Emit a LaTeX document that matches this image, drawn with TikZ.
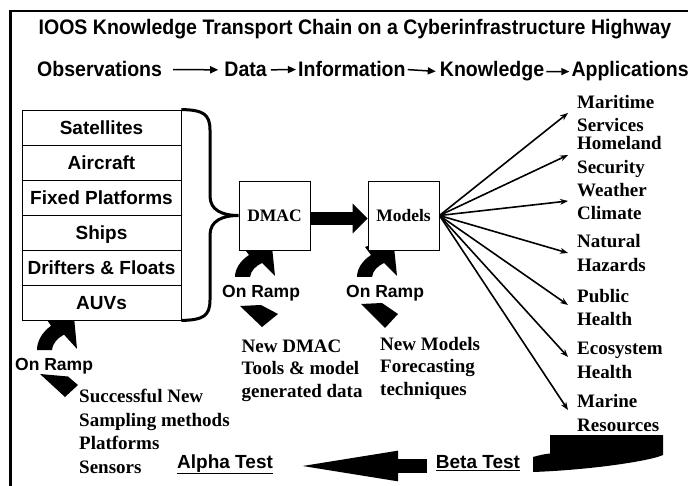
\documentclass[tikz,border=0pt]{standalone}
\usepackage{fontspec}
\setmainfont{Liberation Serif}
\newfontfamily\sansf{Liberation Sans}
\newfontfamily\sansc[FakeStretch=0.93]{Liberation Sans}
\usetikzlibrary{arrows.meta}
\begin{document}
\begin{tikzpicture}[x=1pt,y=-1pt,
  tfont/.style={inner sep=0pt,font=\sansc\bfseries\fontsize{21}{25}\selectfont},
  row/.style={draw,line width=0.9pt,fill=white,minimum width=159pt,minimum height=35pt,inner sep=0pt,text height=13.6pt,text depth=0pt,font=\sansf\bfseries\fontsize{19}{23}\selectfont},
  box/.style={draw,line width=0.9pt,fill=white,minimum width=71pt,minimum height=69pt,inner sep=0pt,text height=11.6pt,text depth=0pt,font=\bfseries\fontsize{17.5}{20}\selectfont},
  lbl/.style={anchor=base west,inner sep=0pt,font=\bfseries\fontsize{19}{23}\selectfont},
  ramp/.style={anchor=base west,inner sep=0pt,font=\sansf\bfseries\fontsize{17.5}{21}\selectfont},
  testlbl/.style={anchor=base west,inner sep=0pt,font=\sansf\bfseries\fontsize{19}{23}\selectfont},
  fan/.style={line width=1.6pt,-{Stealth[length=8pt,width=6pt]}},
  chain/.style={line width=1.5pt,-{Triangle[length=8pt,width=7pt]}},
]
\useasboundingbox (0,0) rectangle (688,486);
% frame
\draw[line width=2.8pt] (10.5,490) -- (10.5,11) -- (692,11);

% title and chain
\node[tfont,anchor=base] (title) at (355,35) {IOOS Knowledge Transport Chain on a Cyberinfrastructure Highway};
\node[tfont,anchor=base west] (obs) at (37,77) {Observations};
\node[tfont,anchor=base west] (data) at ([xshift=62pt]obs.base east) {Data};
\node[tfont,anchor=base west] (info) at ([xshift=31pt]data.base east) {Information};
\node[tfont,anchor=base west] (know) at ([xshift=34pt]info.base east) {Knowledge};
\node[tfont,anchor=base west] (appl) at ([xshift=27pt]know.base east) {Applications};
\draw[chain,shorten <=11pt,shorten >=6pt] (obs.east) -- (data.west);
\draw[chain,shorten <=4pt,shorten >=2pt] (data.east) -- (info.west);
\draw[chain,shorten <=2pt,shorten >=4pt] (info.east) -- (know.west);
\draw[chain,shorten <=2pt,shorten >=2pt] (know.east) -- (appl.west);

% on-ramp arrows (upper parts, tips hidden under the boxes)
\newcommand\rampshape{(0,0) -- (15,0) .. controls (16,-7) and (21,-11) .. (27,-14) -- (40,-1) -- (36,-40) -- (8,-30) -- (14,-22) .. controls (5,-16) and (0,-8) .. (0,0) -- cycle}
\begin{scope}[shift={(37,350)},yscale=1.1]
\fill \rampshape;
\end{scope}
\begin{scope}[shift={(235,277)}]
\fill \rampshape;
\end{scope}
\begin{scope}[shift={(357,277)}]
\fill \rampshape;
\end{scope}
% on-ramp arrows (lower parts)
\fill (40,374) -- (68,376.5) -- (78,385) -- (65,397) -- cycle;
\fill (240,306) -- (261,305) -- (278,314) -- (262,327) -- cycle;
\fill (361,304) -- (382,303) -- (398,314) -- (385,328) -- cycle;

% stack
\node[row] (s1) at (101.5,127.5) {Satellites};
\node[row] (s2) at (101.5,162.5) {Aircraft};
\node[row] (s3) at (101.5,197.5) {Fixed Platforms};
\node[row] (s4) at (101.5,232.5) {Ships};
\node[row] (s5) at (101.5,267.5) {Drifters \& Floats};
\node[row] (s6) at (101.5,302.5) {AUVs};

% boxes
\node[box] (dmac) at (274.5,215.5) {DMAC};
\node[box] (models) at (403.5,215.5) {Models};

% brace
\draw[line width=3pt] (s1.north east) .. controls (203,110) and (210,114) .. (210,130) -- (210,196) .. controls (210,210) and (222,215.5) .. (dmac.west) .. controls (222,215.5) and (210,221) .. (210,235) -- (210,300) .. controls (210,316) and (203,320) .. (s6.south east);

% thick arrow
\draw[line width=13pt,-{Triangle[length=15pt,width=29pt]}] ([yshift=-3pt]dmac.east) -- ([yshift=-3pt]models.west);

% fan
\coordinate (f1) at (568,113);
\coordinate (f2) at (568,155);
\coordinate (f3) at (568,201);
\coordinate (f4) at (568,253);
\coordinate (f5) at (568,305);
\coordinate (f6) at (568,357);
\coordinate (f7) at (568,410);
\foreach \i in {1,...,7} \draw[fan] (models.east) -- (f\i);

\node[lbl] (a1a) at (577,109) {Maritime};
\node[lbl] (a1b) at (577,132) {Services};
\node[lbl] (a2a) at (577,150) {Homeland};
\node[lbl] (a2b) at (577,174) {Security};
\node[lbl] (a3a) at (577,197) {Weather};
\node[lbl] (a3b) at (577,220) {Climate};
\node[lbl] (a4a) at (577,248) {Natural};
\node[lbl] (a4b) at (577,272) {Hazards};
\node[lbl] (a5a) at (577,303) {Public};
\node[lbl] (a5b) at (577,325) {Health};
\node[lbl] (a6a) at (577,354) {Ecosystem};
\node[lbl] (a6b) at (577,378) {Health};
\node[lbl] (a7a) at (577,407) {Marine};
\node[lbl] (a7b) at (577,431) {Resources};

% on ramp labels
\node[ramp] (r1) at (15,370) {On Ramp};
\node[ramp] (r2) at (222,298) {On Ramp};
\node[ramp] (r3) at (346,298) {On Ramp};

% lower labels
\node[lbl] (n1) at (79,402) {Successful New};
\node[lbl] (n2) at (79,426) {Sampling methods};
\node[lbl] (n3) at (79,449) {Platforms};
\node[lbl] (n4) at (79,473) {Sensors};
\node[lbl] (d1) at (241.5,352.5) {New DMAC};
\node[lbl] (d2) at (241.5,374.5) {Tools \& model};
\node[lbl] (d3) at (241.5,397) {generated data};
\node[lbl] (m1) at (380,350) {New Models};
\node[lbl] (m2) at (380,372.5) {Forecasting};
\node[lbl] (m3) at (380,395) {techniques};

% tests
\node[testlbl] (alpha) at (177,468.3) {\underline{Alpha Test}};
\node[testlbl] (beta) at (435.7,468.3) {\underline{Beta Test}};
\coordinate (btail) at (427,466);
\coordinate (atip) at (286,466);
\draw[line width=14pt,-{Triangle[length=112pt,width=26pt]}] (btail) -- (atip);

% bottom right bent shape
\fill (533,457) .. controls (540,455) and (545,454) .. (550,453.5) -- (550,435) -- (663,435) -- (663,455) .. controls (650,461) and (590,470) .. (533,472) -- cycle;
\end{tikzpicture}
\end{document}
